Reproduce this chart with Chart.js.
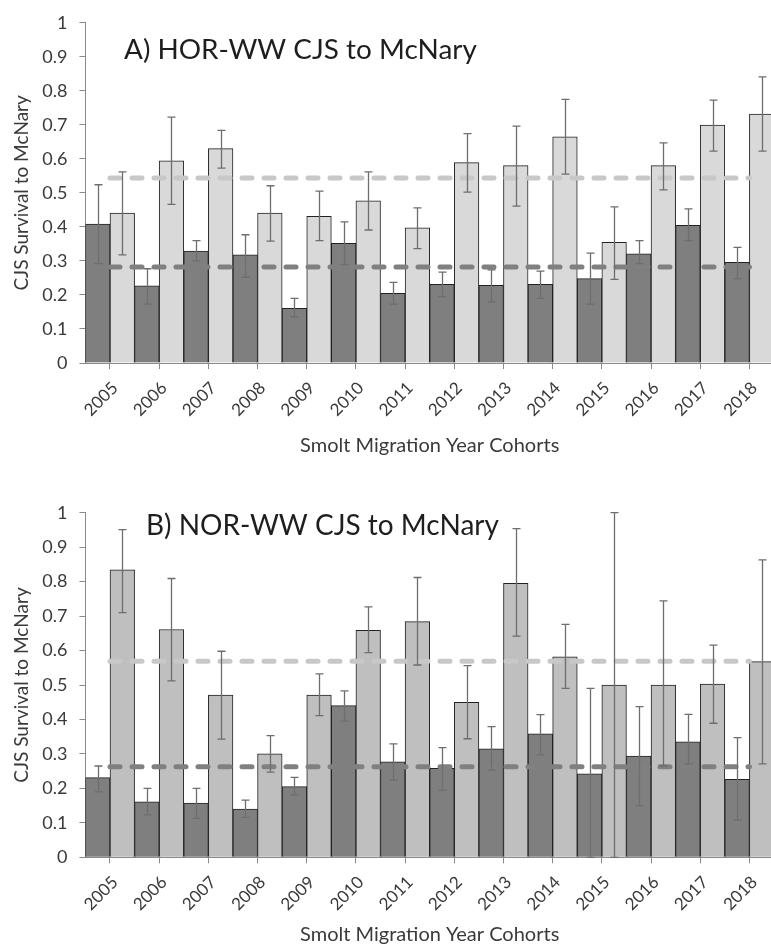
<!DOCTYPE html>
<html>
<head>
<meta charset="utf-8">
<script src="https://cdn.jsdelivr.net/npm/chart.js@4.4.1/dist/chart.umd.min.js"></script>
<style>
  html, body { margin: 0; padding: 0; background: #fff; overflow: hidden; }
  body { width: 771px; height: 951px; position: relative; }
  .panel { position: absolute; left: 0; }
  canvas { display: block; }
</style>
</head>
<body>
<div class="panel" style="top:0px"><canvas id="chartA" width="774" height="462"></canvas></div>
<div class="panel" style="top:470px"><canvas id="chartB" width="774" height="481"></canvas></div>
<script>
const years = ["2005", "2006", "2007", "2008", "2009", "2010", "2011",
  "2012", "2013", "2014", "2015", "2016", "2017", "2018"];
const yTicks = [0, 0.1, 0.2, 0.3, 0.4, 0.5, 0.6, 0.7, 0.8, 0.9, 1];

// A) HOR-WW
const horDark = [0.408, 0.227, 0.329, 0.318, 0.161, 0.352, 0.205, 0.231, 0.228, 0.231, 0.248, 0.321, 0.405, 0.296];
const horDarkLo = [0.292, 0.173, 0.300, 0.252, 0.136, 0.289, 0.173, 0.195, 0.180, 0.190, 0.173, 0.292, 0.360, 0.248];
const horDarkHi = [0.524, 0.277, 0.360, 0.377, 0.190, 0.415, 0.237, 0.267, 0.274, 0.270, 0.323, 0.360, 0.453, 0.340];
const horLight = [0.441, 0.594, 0.630, 0.441, 0.431, 0.477, 0.397, 0.589, 0.580, 0.665, 0.355, 0.580, 0.699, 0.732];
const horLightLo = [0.318, 0.466, 0.573, 0.358, 0.360, 0.391, 0.336, 0.502, 0.461, 0.555, 0.246, 0.509, 0.623, 0.623];
const horLightHi = [0.562, 0.723, 0.684, 0.521, 0.505, 0.562, 0.456, 0.674, 0.696, 0.775, 0.459, 0.647, 0.773, 0.841];
const horDarkMean = 0.282;
const horLightMean = 0.544;

// B) NOR-WW
const norDark = [0.231, 0.161, 0.157, 0.140, 0.205, 0.440, 0.277, 0.258, 0.315, 0.358, 0.242, 0.294, 0.335, 0.226];
const norDarkLo = [0.190, 0.123, 0.113, 0.116, 0.181, 0.395, 0.224, 0.195, 0.253, 0.297, 0.0, 0.150, 0.271, 0.108];
const norDarkHi = [0.265, 0.200, 0.200, 0.166, 0.232, 0.483, 0.329, 0.318, 0.379, 0.414, 0.490, 0.437, 0.415, 0.347];
const norLight = [0.834, 0.661, 0.471, 0.300, 0.471, 0.659, 0.684, 0.450, 0.795, 0.582, 0.500, 0.500, 0.503, 0.568];
const norLightLo = [0.710, 0.512, 0.343, 0.247, 0.411, 0.594, 0.558, 0.344, 0.642, 0.490, 0.0, 0.265, 0.389, 0.271];
const norLightHi = [0.951, 0.809, 0.598, 0.353, 0.532, 0.727, 0.812, 0.556, 0.954, 0.676, 1.0, 0.744, 0.616, 0.863];
const norDarkMean = 0.263;
const norLightMean = 0.569;

const FONT = "Lato";

// error bars drawn on top of the bars, positioned with the chart's own scales
const errorBarPlugin = {
  id: "errorBars",
  afterDatasetsDraw(chart) {
    const ctx = chart.ctx;
    const yScale = chart.scales.y;
    ctx.save();
    ctx.strokeStyle = "#6e6e6e";
    ctx.lineWidth = 1.3;
    chart.data.datasets.forEach((ds, i) => {
      if (!ds.errLo) return;
      chart.getDatasetMeta(i).data.forEach((bar, j) => {
        const yHi = yScale.getPixelForValue(ds.errHi[j]);
        const yLo = yScale.getPixelForValue(ds.errLo[j]);
        const x = Math.round(bar.x) + 0.5;
        ctx.beginPath();
        ctx.moveTo(x, yHi);
        ctx.lineTo(x, yLo);
        ctx.moveTo(x - 4, yHi);
        ctx.lineTo(x + 4, yHi);
        ctx.moveTo(x - 4, yLo);
        ctx.lineTo(x + 4, yLo);
        ctx.stroke();
      });
    });
    ctx.restore();
  },
};

// panel title inside the plot area
const panelTitlePlugin = {
  id: "panelTitle",
  afterDraw(chart, args, opts) {
    const ctx = chart.ctx;
    ctx.save();
    let size = 26;
    ctx.font = size + "px " + FONT;
    size = size * opts.width / ctx.measureText(opts.text).width;
    ctx.font = size.toFixed(2) + "px " + FONT;
    ctx.fillStyle = "#1e1e1e";
    ctx.textBaseline = "alphabetic";
    ctx.fillText(opts.text, chart.chartArea.left + opts.dx, chart.chartArea.top + opts.dy);
    ctx.restore();
  },
};

function meanLine(value, color) {
  return {
    type: "line",
    data: [{ x: years[0], y: value }, { x: years[years.length - 1], y: value }],
    borderColor: color,
    borderWidth: 5,
    borderDash: [10, 12],
    borderCapStyle: "round",
    pointRadius: 0,
    order: 1,
  };
}

function makePanel(id, p) {
  const canvas = document.getElementById(id);
  const H = canvas.height;
  return new Chart(canvas, {
    type: "bar",
    data: {
      labels: years,
      datasets: [
        meanLine(p.lightMean, "#c8c8c8"),
        meanLine(p.darkMean, "#808080"),
        {
          data: p.dark,
          errLo: p.darkLo,
          errHi: p.darkHi,
          backgroundColor: "#7f7f7f",
          borderColor: "#222",
          borderWidth: 1,
          barPercentage: 1,
          categoryPercentage: 1,
          order: 2,
        },
        {
          data: p.light,
          errLo: p.lightLo,
          errHi: p.lightHi,
          backgroundColor: p.lightColor,
          borderColor: "#222",
          borderWidth: 1,
          barPercentage: 1,
          categoryPercentage: 1,
          order: 2,
        },
      ],
    },
    plugins: [errorBarPlugin, panelTitlePlugin],
    options: {
      responsive: false,
      animation: false,
      layout: { padding: { top: p.top, right: 0, left: 0, bottom: 0 } },
      plugins: {
        legend: { display: false },
        tooltip: { enabled: false },
        panelTitle: { text: p.title, dx: p.titleDx, dy: p.titleDy, width: p.titleWidth },
      },
      scales: {
        x: {
          offset: true,
          grid: { offset: false, drawOnChartArea: false, drawTicks: true, tickLength: 6, color: "#8a8a8a" },
          border: { display: true, color: "#8a8a8a", width: 1 },
          ticks: {
            autoSkip: false,
            minRotation: 45,
            maxRotation: 45,
            padding: 9,
            labelOffset: 5,
            color: "#3a3a3a",
            font: { family: FONT, size: 17 },
          },
          title: {
            display: true,
            text: "Smolt Migration Year Cohorts",
            color: "#3a3a3a",
            font: { family: FONT, size: 20 },
            padding: { top: 4, bottom: 4 },
          },
          afterFit(scale) {
            scale.height = H - p.bottom;
          },
        },
        y: {
          min: 0,
          max: 1,
          grid: { drawOnChartArea: false, drawTicks: true, tickLength: 6, color: "#8a8a8a" },
          border: { display: true, color: "#8a8a8a", width: 1 },
          afterBuildTicks(scale) {
            scale.ticks = yTicks.map((v) => ({ value: v }));
          },
          ticks: {
            padding: 12,
            color: "#3a3a3a",
            font: { family: FONT, size: 18 },
            callback: (v) => String(Number(v.toFixed(1))),
          },
          title: {
            display: true,
            text: "CJS Survival to McNary",
            color: "#3a3a3a",
            font: { family: FONT, size: 19 },
            padding: { top: 10, bottom: 4 },
          },
          afterFit(scale) {
            scale.width = 85.4;
          },
        },
      },
    },
  });
}

makePanel("chartA", {
  dark: horDark, darkLo: horDarkLo, darkHi: horDarkHi,
  light: horLight, lightLo: horLightLo, lightHi: horLightHi,
  darkMean: horDarkMean, lightMean: horLightMean,
  lightColor: "#d9d9d9",
  title: "A) HOR-WW CJS to McNary",
  titleDx: 38.6, titleDy: 36, titleWidth: 353,
  top: 19, bottom: 363,
});

makePanel("chartB", {
  dark: norDark, darkLo: norDarkLo, darkHi: norDarkHi,
  light: norLight, lightLo: norLightLo, lightHi: norLightHi,
  darkMean: norDarkMean, lightMean: norLightMean,
  lightColor: "#bfbfbf",
  title: "B) NOR-WW CJS to McNary",
  titleDx: 60.6, titleDy: 22.3, titleWidth: 353,
  top: 42.7, bottom: 387.3,
});
</script>
</body>
</html>
